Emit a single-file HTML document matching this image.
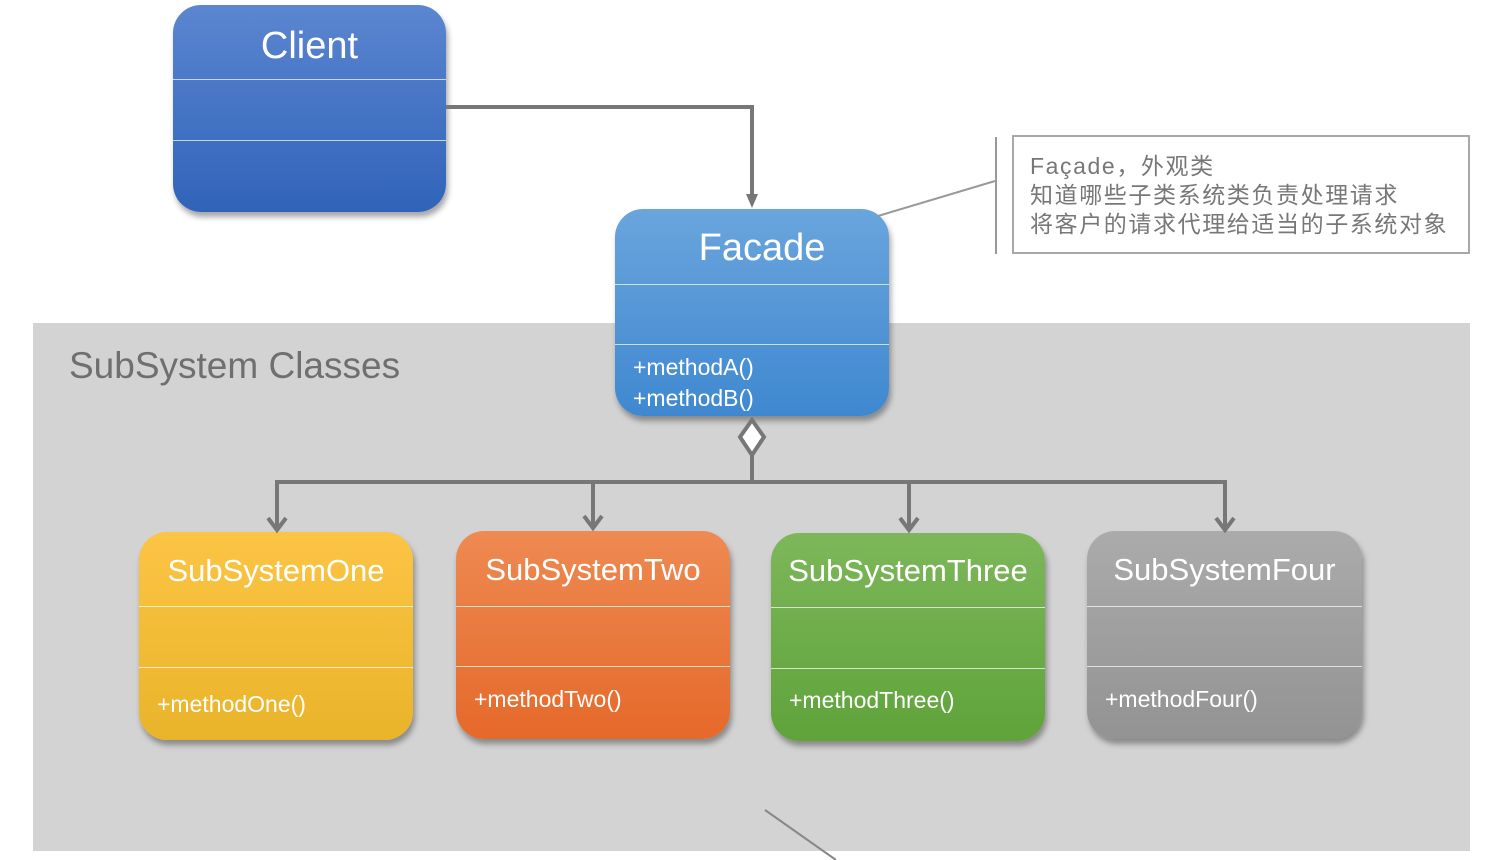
<!DOCTYPE html>
<html><head><meta charset="utf-8"><style>
body{margin:0;width:1505px;height:860px;background:#fff;position:relative;overflow:hidden;font-family:"Liberation Sans","Noto Sans CJK SC",sans-serif}
.panel{position:absolute;left:33px;top:323px;width:1437px;height:528px;background:#d3d3d3}
.ptitle{position:absolute;left:69px;top:345px;font-size:37px;color:#6f6f6f}
.box{position:absolute;border-radius:28px;box-shadow:2px 5px 6px rgba(0,0,0,0.35);color:#fff;overflow:hidden}
.box .t{position:absolute;left:0;right:0;text-align:center}
.box .d{position:absolute;left:0;right:0;height:1px;background:rgba(255,255,255,0.7)}
.box .m{position:absolute;left:18px;font-size:23px;line-height:31px}
.note{position:absolute;left:1012px;top:135px;width:458px;height:119px;border:2px solid #a8a8a8;box-sizing:border-box;font-size:23px;letter-spacing:1.6px;line-height:29px;color:#777;padding:15px 0 0 16px;white-space:nowrap}
svg{position:absolute;left:0;top:0}
</style></head><body>
<div class="panel"></div>
<div class="ptitle">SubSystem Classes</div>

<div class="box" style="left:173px;top:5px;width:273px;height:207px;background:linear-gradient(#5b86d0,#3063b9)">
 <div class="t" style="top:20px;font-size:38px">Client</div>
 <div class="d" style="top:74px"></div><div class="d" style="top:135px"></div>
</div>

<div class="box" style="left:615px;top:209px;width:274px;height:207px;background:linear-gradient(#6aa5dd,#3f88d0)">
 <div class="t" style="top:18px;font-size:38px;left:20px">Facade</div>
 <div class="d" style="top:75px"></div><div class="d" style="top:135px"></div>
 <div class="m" style="top:143px">+methodA()<br>+methodB()</div>
</div>

<div class="box" style="left:139px;top:532px;width:274px;height:208px;background:linear-gradient(#fcc444,#e9b42a)">
 <div class="t" style="top:21px;font-size:31px">SubSystemOne</div>
 <div class="d" style="top:74px"></div><div class="d" style="top:135px"></div>
 <div class="m" style="top:157px">+methodOne()</div>
</div>
<div class="box" style="left:456px;top:531px;width:274px;height:208px;background:linear-gradient(#ee8a52,#e5692a)">
 <div class="t" style="top:21px;font-size:31px">SubSystemTwo</div>
 <div class="d" style="top:75px"></div><div class="d" style="top:135px"></div>
 <div class="m" style="top:153px">+methodTwo()</div>
</div>
<div class="box" style="left:771px;top:533px;width:274px;height:208px;background:linear-gradient(#7db75a,#5fa33a)">
 <div class="t" style="top:20px;font-size:31px">SubSystemThree</div>
 <div class="d" style="top:74px"></div><div class="d" style="top:135px"></div>
 <div class="m" style="top:152px">+methodThree()</div>
</div>
<div class="box" style="left:1087px;top:531px;width:275px;height:208px;background:linear-gradient(#ababab,#939393)">
 <div class="t" style="top:21px;font-size:31px">SubSystemFour</div>
 <div class="d" style="top:75px"></div><div class="d" style="top:135px"></div>
 <div class="m" style="top:153px">+methodFour()</div>
</div>

<div class="note">Façade，外观类<br>知道哪些子类系统类负责处理请求<br>将客户的请求代理给适当的子系统对象</div>

<svg width="1505" height="860">
 <g stroke="#777" stroke-width="4" fill="none">
  <polyline points="446,107 752,107 752,198"/>
  <polyline points="277,530 277,482 1225,482 1225,530"/>
  <line x1="752" y1="455" x2="752" y2="482"/>
  <line x1="593" y1="482" x2="593" y2="528"/>
  <line x1="909" y1="482" x2="909" y2="530"/>
  <polyline points="268,518 277,530 286,518"/>
  <polyline points="584,516 593,528 602,516"/>
  <polyline points="900,518 909,530 918,518"/>
  <polyline points="1216,518 1225,530 1234,518"/>
 </g>
 <polygon points="746,194 758,194 752,208" fill="#777"/>
 <polygon points="752,420 764,437 752,455 740,437" fill="#fff" stroke="#777" stroke-width="4"/>
 <line x1="878" y1="216" x2="995" y2="181" stroke="#999" stroke-width="2"/>
 <line x1="996" y1="137" x2="996" y2="254" stroke="#999" stroke-width="2"/>
 <line x1="765" y1="810" x2="836" y2="860" stroke="#888" stroke-width="2"/>
</svg>
</body></html>
